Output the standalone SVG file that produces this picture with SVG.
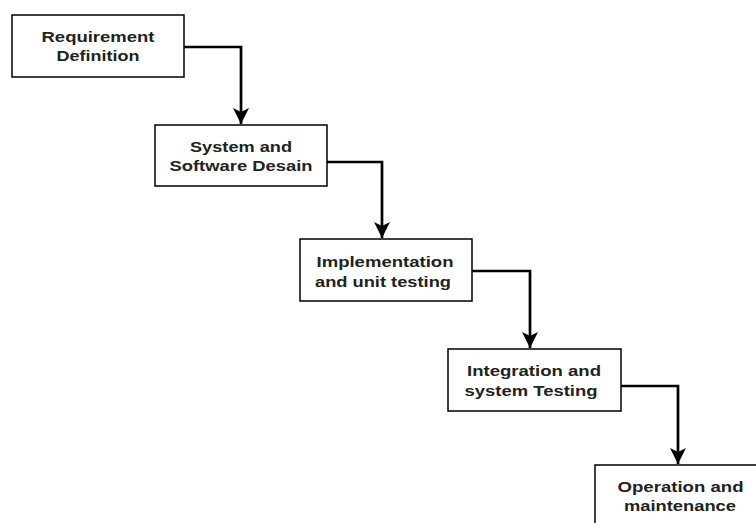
<svg xmlns="http://www.w3.org/2000/svg" width="756" height="523" viewBox="0 0 756 523">
<style>
.box{fill:#fff;stroke:#000;stroke-width:1.5}
.lbl{font-family:"Liberation Sans",Arial,sans-serif;font-weight:bold;font-size:15.5px;fill:#222;text-anchor:middle}
.conn{fill:none;stroke:#000;stroke-width:2.7}
</style>
<defs>
<marker id="arr" markerUnits="userSpaceOnUse" markerWidth="18" markerHeight="18" viewBox="0 0 18 18" refX="16" refY="9" orient="auto">
<path d="M0,1 L16,9 L0,17 L4,9 Z" fill="#000"/>
</marker>
</defs>
<rect width="756" height="523" fill="#fff"/>
<g id="connectors">
<path class="conn" d="M184,47 H241 V124" marker-end="url(#arr)"/>
<path class="conn" d="M327,162 H382 V238" marker-end="url(#arr)"/>
<path class="conn" d="M472,271 H530 V348" marker-end="url(#arr)"/>
<path class="conn" d="M621,386 H678 V464" marker-end="url(#arr)"/>
</g>
<g id="n1">
<rect class="box" x="12" y="15" width="172" height="62"/>
<text class="lbl" x="98" y="42" textLength="113" lengthAdjust="spacingAndGlyphs">Requirement</text>
<text class="lbl" x="98" y="61" textLength="83" lengthAdjust="spacingAndGlyphs">Definition</text>
</g>
<g id="n2">
<rect class="box" x="155" y="125" width="172" height="61"/>
<text class="lbl" x="241" y="152" textLength="102" lengthAdjust="spacingAndGlyphs">System and</text>
<text class="lbl" x="241" y="171" textLength="143" lengthAdjust="spacingAndGlyphs">Software Desain</text>
</g>
<g id="n3">
<rect class="box" x="300" y="239" width="172" height="62"/>
<text class="lbl" x="385" y="267" textLength="137" lengthAdjust="spacingAndGlyphs">Implementation</text>
<text class="lbl" x="383" y="287" textLength="136" lengthAdjust="spacingAndGlyphs">and unit testing</text>
</g>
<g id="n4">
<rect class="box" x="448" y="349" width="173" height="62"/>
<text class="lbl" x="534" y="376" textLength="134" lengthAdjust="spacingAndGlyphs">Integration and</text>
<text class="lbl" x="531" y="396" textLength="133" lengthAdjust="spacingAndGlyphs">system Testing</text>
</g>
<g id="n5">
<rect class="box" x="595" y="465" width="172" height="62"/>
<text class="lbl" x="680.5" y="492" textLength="126" lengthAdjust="spacingAndGlyphs">Operation and</text>
<text class="lbl" x="680" y="511" textLength="112" lengthAdjust="spacingAndGlyphs">maintenance</text>
</g>
</svg>
